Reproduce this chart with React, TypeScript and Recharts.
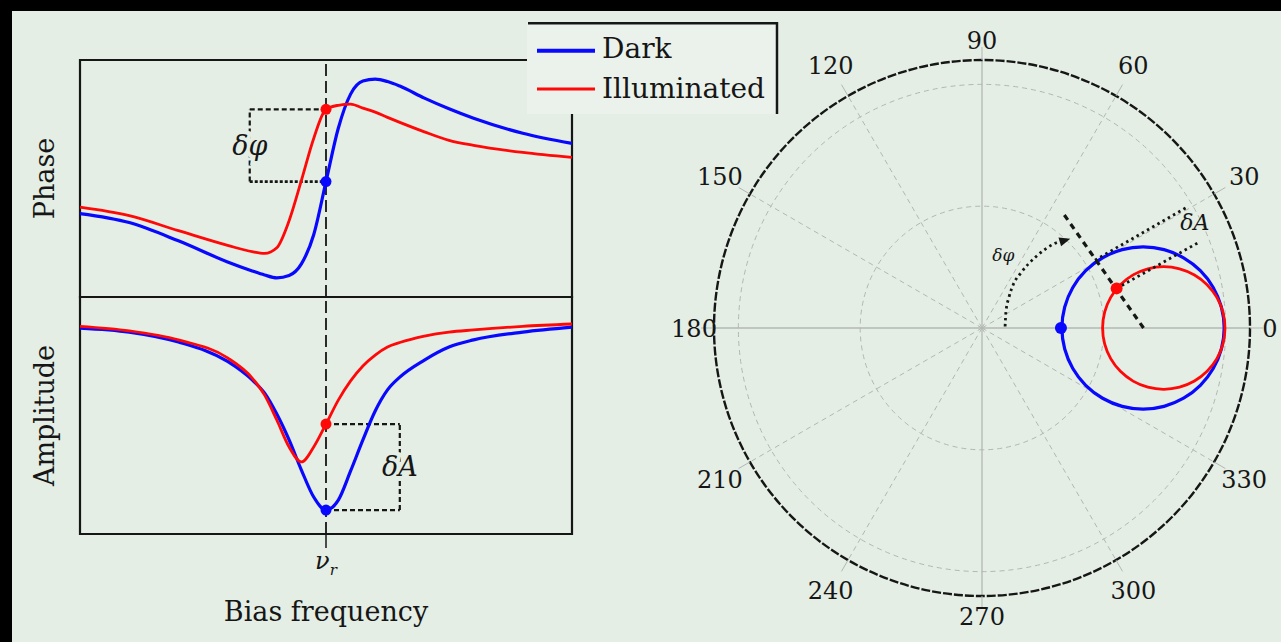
import React from "react";
import {
  LineChart,
  Line,
  XAxis,
  YAxis,
  ReferenceArea,
  ReferenceLine,
  ReferenceDot,
  RadarChart,
  Radar,
  PolarGrid,
  PolarAngleAxis,
  PolarRadiusAxis,
  Curve,
} from "recharts";

/* ── Data: left panels (bias frequency offset from ν_r) ───────── */

const FREQ = [
  -1, -0.8, -0.6, -0.4, -0.3, -0.25, -0.2, -0.15, -0.1, -0.05, 0, 0.05, 0.1,
  0.15, 0.2, 0.25, 0.3, 0.4, 0.5, 0.6, 0.8, 1,
];
const PHASE_DARK = [
  0.352, 0.314, 0.237, 0.148, 0.11, 0.093, 0.081, 0.091, 0.14, 0.263, 0.487,
  0.712, 0.856, 0.911, 0.919, 0.909, 0.89, 0.839, 0.794, 0.754, 0.691, 0.648,
];
const PHASE_ILLUM = [
  0.379, 0.343, 0.28, 0.218, 0.191, 0.184, 0.208, 0.322, 0.492, 0.669, 0.792,
  0.809, 0.814, 0.797, 0.78, 0.758, 0.737, 0.697, 0.661, 0.64, 0.61, 0.589,
];
const AMP_DARK = [
  0.869, 0.852, 0.81, 0.728, 0.65, 0.595, 0.506, 0.397, 0.27, 0.156, 0.101,
  0.143, 0.266, 0.397, 0.519, 0.608, 0.662, 0.734, 0.789, 0.819, 0.852, 0.873,
];
const AMP_ILLUM = [
  0.876, 0.857, 0.819, 0.743, 0.658, 0.587, 0.481, 0.367, 0.304, 0.367, 0.464,
  0.565, 0.646, 0.709, 0.755, 0.789, 0.808, 0.835, 0.852, 0.861, 0.876, 0.886,
];
const PHASE_BRACKET_X = -0.31;
const AMP_BRACKET_X = 0.3;

/* ── Data: polar panel, [angle (deg), amplitude] ──────────────── */

const LOOP_DARK: [number, number][] = [
  [0, 0.998], [5.05, 0.99], [10.02, 0.967], [14.83, 0.93], [19.37, 0.879],
  [23.49, 0.816], [26.99, 0.742], [29.53, 0.66], [30.61, 0.573], [29.36, 0.485],
  [24.49, 0.406], [14.54, 0.347], [0, 0.324], [345.46, 0.347], [335.51, 0.406],
  [330.64, 0.485], [329.39, 0.573], [330.47, 0.66], [333.01, 0.742],
  [336.51, 0.816], [340.63, 0.879], [345.17, 0.93], [349.98, 0.967],
  [354.95, 0.99],
];
const LOOP_ILLUM: [number, number][] = [
  [0, 1.0], [3.8, 0.994], [7.5, 0.975], [11.0, 0.943], [14.16, 0.901],
  [16.84, 0.848], [18.84, 0.788], [19.87, 0.723], [19.61, 0.657], [17.64, 0.594],
  [13.62, 0.541], [7.5, 0.505], [0, 0.492], [352.5, 0.505], [346.38, 0.541],
  [342.36, 0.594], [340.39, 0.657], [340.13, 0.723], [341.16, 0.788],
  [343.16, 0.848], [345.84, 0.901], [349.0, 0.943], [352.5, 0.975],
  [356.2, 0.994],
];
const SHIFT_LINE: [number, number][] = [[0, 0.663], [54.8, 0.577]];
const DA_DARK: [number, number][] = [[31.0, 0.541], [30.5, 0.982]];
const DA_ILLUM: [number, number][] = [[16.4, 0.576], [21.6, 0.962]];
const DPHI_ARC: [number, number][] = [
  [3.7, 0.095], [33.7, 0.118], [48.9, 0.169], [54.4, 0.222], [54.8, 0.275],
  [52.9, 0.367], [49.2, 0.459], [46.2, 0.501],
];
const DOT_DARK: [number, number] = [0, 0.324];
const DOT_ILLUM: [number, number] = [16.4, 0.576];
const POLAR_NOTES = [
  { angle: 73.7, r: 0.312, text: "δφ", size: 17 },
  { angle: 26.5, r: 0.976, text: "δA", size: 22 },
];
const ANGLE_TICKS = [0, 30, 60, 90, 120, 150, 180, 210, 240, 270, 300, 330];
const DIAG_ANGLES = [30, 60, 120, 150, 210, 240, 300, 330];
const AXIS_ANGLES = [0, 90, 180, 270];
const RING_VALUES = [0.5, 1.0];
const R_MAX = 1.1;

/* ── Style ────────────────────────────────────────────────────── */

const BG = "#e4eee5";
const LEGEND_BG = "#eaf2eb";
const INK = "#161616";
const BLUE = "#0808ff";
const RED = "#ff0808";
const GRID = "#b3b7b3";
const FONT = '"DejaVu Serif", "Liberation Serif", serif';

const OUTER_R = 268;
const P_SIZE = 640;
const P_C = P_SIZE / 2;

/* ── Derived tables ───────────────────────────────────────────── */

const i0 = FREQ.indexOf(0);
const phaseRows = FREQ.map((f, i) => ({ f, dark: PHASE_DARK[i], illum: PHASE_ILLUM[i] }));
const ampRows = FREQ.map((f, i) => ({ f, dark: AMP_DARK[i], illum: AMP_ILLUM[i] }));

const polarRows = [
  ...LOOP_DARK.map(([angle, r]) => ({ angle, dark: r })),
  ...LOOP_ILLUM.map(([angle, r]) => ({ angle, illum: r })),
  ...SHIFT_LINE.map(([angle, r]) => ({ angle, shift: r })),
  ...DA_DARK.map(([angle, r]) => ({ angle, daDark: r })),
  ...DA_ILLUM.map(([angle, r]) => ({ angle, daIllum: r })),
  ...DPHI_ARC.map(([angle, r]) => ({ angle, dphi: r })),
  { angle: DOT_DARK[0], dotDark: DOT_DARK[1] },
  { angle: DOT_ILLUM[0], dotIllum: DOT_ILLUM[1] },
  ...POLAR_NOTES.map((n) => ({ angle: n.angle, note: n.r, text: n.text, size: n.size })),
];

/* ── Shapes ───────────────────────────────────────────────────── */

// keep only the points whose row actually carries this radar's value
const ownPts = (props: any) =>
  (props.points || []).filter((p: any) => {
    const v = Array.isArray(p.value) ? p.value[p.value.length - 1] : p.value;
    return typeof v === "number" && Number.isFinite(v) && Number.isFinite(p.x) && Number.isFinite(p.y);
  });

const trace =
  (stroke: string, width: number, type: string, dash?: string, arrow = false) =>
  (props: any) => {
    const pts = ownPts(props);
    if (pts.length < 2) return <g />;
    let head = null;
    if (arrow) {
      const a = pts[pts.length - 2];
      const b = pts[pts.length - 1];
      const len = Math.hypot(b.x - a.x, b.y - a.y) || 1;
      const ux = (b.x - a.x) / len;
      const uy = (b.y - a.y) / len;
      const tip = { x: b.x + ux * 4, y: b.y + uy * 4 };
      const base = { x: b.x - ux * 7, y: b.y - uy * 7 };
      head = (
        <polygon
          points={`${tip.x},${tip.y} ${base.x - uy * 4.5},${base.y + ux * 4.5} ${base.x + uy * 4.5},${base.y - ux * 4.5}`}
          fill={stroke}
        />
      );
    }
    return (
      <g>
        <Curve
          points={pts}
          type={type as any}
          stroke={stroke}
          strokeWidth={width}
          strokeDasharray={dash}
          fill="none"
        />
        {head}
      </g>
    );
  };

const dotShape = (fill: string, r: number) => (props: any) => {
  const pts = ownPts(props);
  return (
    <g>
      {pts.map((p: any, i: number) => (
        <circle key={i} cx={p.x} cy={p.y} r={r} fill={fill} />
      ))}
    </g>
  );
};

const noteShape = (props: any) => {
  const pts = ownPts(props);
  return (
    <g>
      {pts.map((p: any, i: number) => {
        const row = p.payload?.payload ?? p.payload ?? {};
        return (
          <text
            key={i}
            x={p.x}
            y={p.y}
            dy="0.35em"
            textAnchor="middle"
            fontFamily={FONT}
            fontStyle="italic"
            fontSize={row.size}
            fill={INK}
          >
            {row.text}
          </text>
        );
      })}
    </g>
  );
};

const AngleTick = (props: any) => {
  const { x, y, payload } = props;
  const dx = x - P_C;
  const dy = y - P_C;
  const len = Math.hypot(dx, dy) || 1;
  const a = Math.atan2(-dy, dx);
  const push = 7 + 17 * Math.abs(Math.sin(2 * a));
  return (
    <text
      x={x + (dx / len) * push}
      y={y + (dy / len) * push}
      dy="0.36em"
      textAnchor="middle"
      fontFamily={FONT}
      fontSize={24}
      fill={INK}
    >
      {payload.value}
    </text>
  );
};

const NuTick = (props: any) => (
  <text x={props.x} y={props.y + 19} textAnchor="middle" fontFamily={FONT} fill={INK}>
    <tspan fontSize={24} fontStyle="italic">ν</tspan>
    <tspan fontSize={15} fontStyle="italic" dy={6}>r</tspan>
  </text>
);

const bracketLabel = (text: string) => (p: any) => (
  <text
    x={p.cx}
    y={p.cy}
    dy="0.35em"
    textAnchor="middle"
    fontFamily={FONT}
    fontStyle="italic"
    fontSize={27}
    fill={INK}
    stroke={BG}
    strokeWidth={8}
    paintOrder="stroke"
  >
    {text}
  </text>
);

/* ── Component ────────────────────────────────────────────────── */

export default function App() {
  const ringRadii = RING_VALUES.map((v) => (v / R_MAX) * OUTER_R);

  return (
    <div
      style={{
        position: "absolute",
        left: 0,
        top: 0,
        width: 1281,
        height: 642,
        background: "#000",
        overflow: "hidden",
        fontFamily: FONT,
      }}
    >
      <div style={{ position: "absolute", left: 12, top: 11, right: 0, bottom: 0, background: BG }} />

      {/* ── Phase panel ─────────────────────────────────── */}
      <div style={{ position: "absolute", left: 3, top: 55 }}>
        <LineChart width={574} height={247} data={phaseRows} margin={{ top: 5, right: 5, bottom: 5, left: 5 }}>
          <XAxis dataKey="f" type="number" domain={[-1, 1]} hide />
          <YAxis
            type="number"
            domain={[0, 1]}
            width={72}
            axisLine={false}
            tickLine={false}
            tick={false}
            label={{ value: "Phase", angle: -90, position: "center", fill: INK, fontSize: 27, fontFamily: FONT }}
          />
          <ReferenceArea x1={-1} x2={1} y1={0} y2={1} fill="none" stroke={INK} strokeWidth={2.2} />
          <ReferenceLine x={0} stroke={INK} strokeWidth={1.8} strokeDasharray="12 5" />
          <ReferenceLine
            segment={[{ x: PHASE_BRACKET_X, y: PHASE_ILLUM[i0] }, { x: 0, y: PHASE_ILLUM[i0] }]}
            stroke={INK}
            strokeWidth={2.2}
            strokeDasharray="5 3"
          />
          <ReferenceLine
            segment={[{ x: PHASE_BRACKET_X, y: PHASE_DARK[i0] }, { x: 0, y: PHASE_DARK[i0] }]}
            stroke={INK}
            strokeWidth={2.6}
            strokeDasharray="3 2"
          />
          <ReferenceLine
            segment={[{ x: PHASE_BRACKET_X, y: PHASE_DARK[i0] }, { x: PHASE_BRACKET_X, y: PHASE_ILLUM[i0] }]}
            stroke={INK}
            strokeWidth={2.2}
            strokeDasharray="5 3"
          />
          <Line dataKey="dark" type="monotone" stroke={BLUE} strokeWidth={3.2} dot={false} isAnimationActive={false} />
          <Line dataKey="illum" type="monotone" stroke={RED} strokeWidth={2.8} dot={false} isAnimationActive={false} />
          <ReferenceDot x={0} y={PHASE_DARK[i0]} r={5.5} fill={BLUE} stroke="none" />
          <ReferenceDot x={0} y={PHASE_ILLUM[i0]} r={5.5} fill={RED} stroke="none" />
          <ReferenceDot
            x={PHASE_BRACKET_X}
            y={(PHASE_DARK[i0] + PHASE_ILLUM[i0]) / 2}
            shape={bracketLabel("δφ")}
          />
        </LineChart>
      </div>

      {/* ── Amplitude panel ─────────────────────────────── */}
      <div style={{ position: "absolute", left: 3, top: 292 }}>
        <LineChart width={574} height={347} data={ampRows} margin={{ top: 5, right: 5, bottom: 5, left: 5 }}>
          <XAxis
            dataKey="f"
            type="number"
            domain={[-1, 1]}
            ticks={[0]}
            height={100}
            axisLine={false}
            tickSize={14}
            tickLine={{ stroke: INK, strokeWidth: 1.5 }}
            tick={<NuTick />}
            label={{ value: "Bias frequency", position: "insideBottom", offset: 13, fill: INK, fontSize: 27, fontFamily: FONT }}
          />
          <YAxis
            type="number"
            domain={[0, 1]}
            width={72}
            axisLine={false}
            tickLine={false}
            tick={false}
            label={{ value: "Amplitude", angle: -90, position: "center", fill: INK, fontSize: 27, fontFamily: FONT }}
          />
          <ReferenceArea x1={-1} x2={1} y1={0} y2={1} fill="none" stroke={INK} strokeWidth={2.2} />
          <ReferenceLine x={0} stroke={INK} strokeWidth={1.8} strokeDasharray="12 5" />
          <ReferenceLine
            segment={[{ x: 0, y: AMP_ILLUM[i0] }, { x: AMP_BRACKET_X, y: AMP_ILLUM[i0] }]}
            stroke={INK}
            strokeWidth={2.2}
            strokeDasharray="5 3"
          />
          <ReferenceLine
            segment={[{ x: 0, y: AMP_DARK[i0] }, { x: AMP_BRACKET_X, y: AMP_DARK[i0] }]}
            stroke={INK}
            strokeWidth={2.2}
            strokeDasharray="5 3"
          />
          <ReferenceLine
            segment={[{ x: AMP_BRACKET_X, y: AMP_DARK[i0] }, { x: AMP_BRACKET_X, y: AMP_ILLUM[i0] }]}
            stroke={INK}
            strokeWidth={2.2}
            strokeDasharray="5 3"
          />
          <Line dataKey="dark" type="monotone" stroke={BLUE} strokeWidth={3.2} dot={false} isAnimationActive={false} />
          <Line dataKey="illum" type="monotone" stroke={RED} strokeWidth={2.8} dot={false} isAnimationActive={false} />
          <ReferenceDot x={0} y={AMP_DARK[i0]} r={5.5} fill={BLUE} stroke="none" />
          <ReferenceDot x={0} y={AMP_ILLUM[i0]} r={5.5} fill={RED} stroke="none" />
          <ReferenceDot
            x={AMP_BRACKET_X}
            y={(AMP_DARK[i0] + AMP_ILLUM[i0]) / 2}
            shape={bracketLabel("δA")}
          />
        </LineChart>
      </div>

      {/* ── Polar panel ─────────────────────────────────── */}
      <div style={{ position: "absolute", left: 982 - P_C, top: 328 - P_C }}>
        <RadarChart
          width={P_SIZE}
          height={P_SIZE}
          cx={P_C}
          cy={P_C}
          outerRadius={OUTER_R}
          startAngle={0}
          endAngle={360}
          data={polarRows}
          margin={{ top: 0, right: 0, bottom: 0, left: 0 }}
        >
          <PolarGrid gridType="circle" radialLines={false} polarAngles={[0]} polarRadius={ringRadii} stroke={GRID} strokeDasharray="5 4" />
          <PolarGrid gridType="circle" polarAngles={DIAG_ANGLES} polarRadius={[0]} stroke={GRID} strokeDasharray="5 4" />
          <PolarGrid gridType="circle" polarAngles={AXIS_ANGLES} polarRadius={[0]} stroke={GRID} strokeWidth={1.3} />
          <PolarAngleAxis
            dataKey="angle"
            type="number"
            domain={[0, 360]}
            ticks={ANGLE_TICKS}
            axisLineType="circle"
            axisLine={{ stroke: INK, strokeWidth: 2.4, strokeDasharray: "9 2" }}
            tickLine={{ stroke: GRID, strokeWidth: 1 }}
            tickSize={13}
            tick={AngleTick}
          />
          <PolarRadiusAxis type="number" domain={[0, R_MAX]} tick={false} axisLine={false} />
          <Radar dataKey="dark" isAnimationActive={false} dot={false} shape={trace(BLUE, 3.2, "basisClosed")} />
          <Radar dataKey="illum" isAnimationActive={false} dot={false} shape={trace(RED, 2.8, "basisClosed")} />
          <Radar dataKey="shift" isAnimationActive={false} dot={false} shape={trace(INK, 3.2, "linear", "6 5")} />
          <Radar dataKey="daDark" isAnimationActive={false} dot={false} shape={trace(INK, 2.8, "linear", "2.5 3.5")} />
          <Radar dataKey="daIllum" isAnimationActive={false} dot={false} shape={trace(INK, 2.8, "linear", "2.5 3.5")} />
          <Radar dataKey="dphi" isAnimationActive={false} dot={false} shape={trace(INK, 2.8, "monotoneX", "2.5 3.5", true)} />
          <Radar dataKey="dotDark" isAnimationActive={false} dot={false} shape={dotShape(BLUE, 6)} />
          <Radar dataKey="dotIllum" isAnimationActive={false} dot={false} shape={dotShape(RED, 6)} />
          <Radar dataKey="note" isAnimationActive={false} dot={false} shape={noteShape} />
        </RadarChart>
      </div>

      {/* ── Legend ──────────────────────────────────────── */}
      <svg
        width={252}
        height={92}
        style={{ position: "absolute", left: 527, top: 22 }}
      >
        <rect x={0} y={0} width={252} height={92} fill={LEGEND_BG} />
        <line x1={1} y1={1.3} x2={251} y2={1.3} stroke={INK} strokeWidth={2.5} />
        <line x1={250} y1={0} x2={250} y2={92} stroke={INK} strokeWidth={2.5} />
        <line x1={10} y1={28.7} x2={68} y2={28.7} stroke={BLUE} strokeWidth={4} />
        <line x1={10} y1={67} x2={68} y2={67} stroke={RED} strokeWidth={2.8} />
        <text x={75} y={36.3} fontFamily={FONT} fontSize={28} fill={INK}>Dark</text>
        <text x={75} y={76.3} fontFamily={FONT} fontSize={28} fill={INK}>Illuminated</text>
      </svg>
    </div>
  );
}
